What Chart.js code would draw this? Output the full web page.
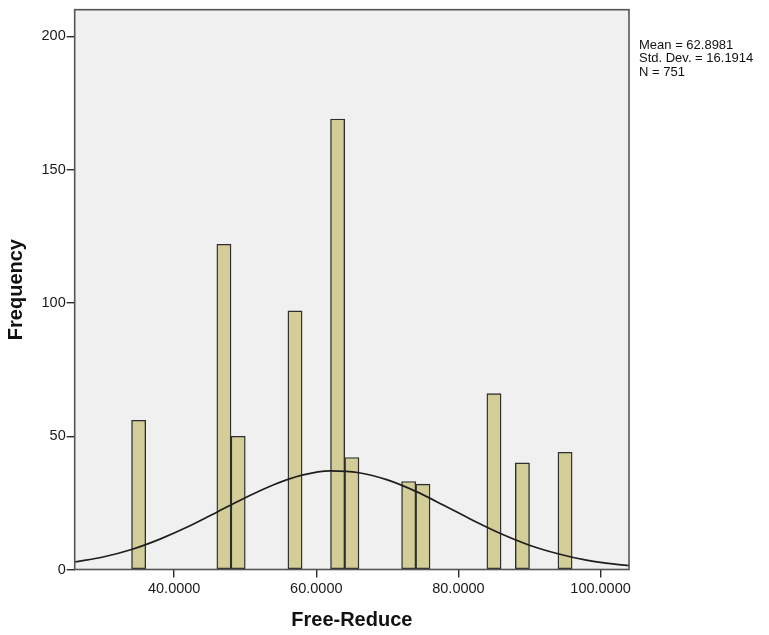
<!DOCTYPE html>
<html>
<head>
<meta charset="utf-8">
<script src="https://cdn.jsdelivr.net/npm/chart.js@4"></script>
<style>
html,body{margin:0;padding:0;background:#fff;}
#wrap{position:relative;width:769px;height:635px;}
</style>
</head>
<body>
<div id="wrap"><canvas id="c" width="769" height="635"></canvas></div>
<script>
// Histogram bins (centre of each 2-unit bin) and their frequencies
const binCenters = [35, 47, 49, 57, 63, 65, 73, 75, 85, 89, 95];
const frequencies = [56, 122, 50, 97, 169, 42, 33, 32, 66, 40, 44];

// Normal curve
const curveX = [26, 30, 34, 38, 42, 46, 50, 54, 58, 62, 66, 70, 74, 78, 82, 86, 90, 94, 98, 102, 104];
const curveY = [2.8, 4.7, 7.5, 11.4, 16.1, 21.5, 26.9, 31.8, 35.4, 37.0, 36.3, 33.6, 29.3, 24.0, 18.5, 13.4, 9.1, 5.9, 3.5, 2.0, 1.5];

// Axis ticks
const xTicks = [40, 60, 80, 100];
const yTicks = [0, 50, 100, 150, 200];

// Statistics box
const statLines = ['Mean = 62.8981', 'Std. Dev. = 16.1914', 'N = 751'];

const FONT = "'Liberation Sans', Arial, sans-serif";

const plotFrame = {
  id: 'plotFrame',
  beforeDraw(chart) {
    const { ctx, chartArea: a } = chart;
    ctx.save();
    ctx.fillStyle = '#f0f0f0';
    ctx.fillRect(a.left, a.top, a.right - a.left, a.bottom - a.top);
    ctx.restore();
  },
  afterDraw(chart) {
    const { ctx, chartArea: a } = chart;
    ctx.save();
    ctx.strokeStyle = '#555555';
    ctx.lineWidth = 1.6;
    ctx.strokeRect(a.left, a.top, a.right - a.left, a.bottom - a.top);
    ctx.fillStyle = '#111';
    ctx.font = '13px ' + FONT;
    ctx.textAlign = 'left';
    ctx.textBaseline = 'alphabetic';
    statLines.forEach((t, i) => ctx.fillText(t, a.right + 10, 49 + i * 13.3));
    ctx.restore();
  }
};

new Chart(document.getElementById('c'), {
  data: {
    datasets: [
      {
        type: 'line',
        data: curveX.map((x, i) => ({ x: x, y: curveY[i] })),
        borderColor: '#1e1e1e',
        borderWidth: 1.7,
        pointRadius: 0,
        cubicInterpolationMode: 'monotone',
        fill: false,
        order: 0
      },
      {
        type: 'bar',
        data: binCenters.map((x, i) => ({ x: x, y: frequencies[i] })),
        backgroundColor: '#d3ce98',
        borderColor: '#2e2e2e',
        borderWidth: 1.4,
        borderSkipped: false,
        barPercentage: 1,
        categoryPercentage: 1,
        order: 1
      }
    ]
  },
  options: {
    responsive: false,
    animation: false,
    devicePixelRatio: 1,
    layout: { padding: { left: 0, top: 8, right: 140, bottom: 0 } },
    plugins: { legend: { display: false }, tooltip: { enabled: false } },
    scales: {
      x: {
        type: 'linear',
        position: 'bottom',
        offset: false,
        min: 26,
        max: 104,
        afterBuildTicks: s => { s.ticks = xTicks.map(v => ({ value: v })); },
        afterFit: s => { s.height = 65.5; },
        border: { display: false },
        grid: { display: true, offset: false, drawOnChartArea: false, drawTicks: true, tickLength: 8, tickColor: '#2a2a2a', lineWidth: 1.4 },
        ticks: {
          padding: 3,
          color: '#1a1a1a',
          font: { family: FONT, size: 14.5 },
          maxRotation: 0,
          callback: v => Number(v).toFixed(4)
        },
        title: {
          display: true,
          text: 'Free-Reduce',
          color: '#111',
          font: { family: FONT, size: 20, weight: 'bold' },
          padding: { top: 0, bottom: 3 }
        }
      },
      y: {
        type: 'linear',
        position: 'left',
        min: 0,
        max: 210,
        afterBuildTicks: s => { s.ticks = yTicks.map(v => ({ value: v })); },
        afterFit: s => { s.width = 74.7; },
        border: { display: false },
        grid: { display: true, drawOnChartArea: false, drawTicks: true, tickLength: 8, tickColor: '#2a2a2a', lineWidth: 1.4 },
        ticks: {
          padding: 1,
          color: '#1a1a1a',
          font: { family: FONT, size: 14.5 },
          callback: v => String(v)
        },
        title: {
          display: true,
          text: 'Frequency',
          color: '#111',
          font: { family: FONT, size: 20, weight: 'bold' },
          padding: { top: 4, bottom: 0 }
        }
      }
    }
  },
  plugins: [plotFrame]
});
</script>
</body>
</html>
